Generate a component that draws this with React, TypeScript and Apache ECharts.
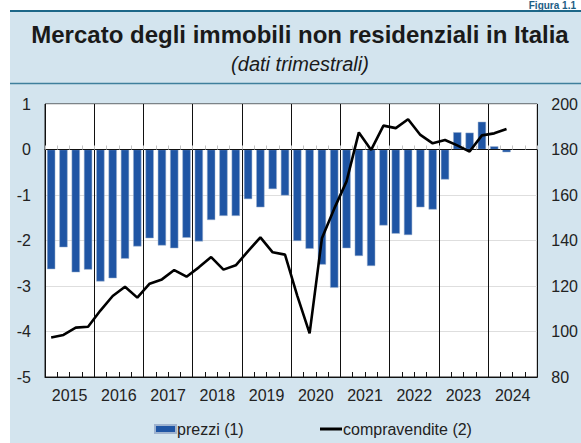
import React, { useEffect, useRef } from "react";
import * as echarts from "echarts";

const years = ["2015", "2016", "2017", "2018", "2019", "2020", "2021", "2022", "2023", "2024"];
const quarters = years.flatMap((y) => ["I", "II", "III", "IV"].map((q) => `${q} ${y}`));

const prezzi: (number | null)[] = [
  -2.63, -2.15, -2.70, -2.64,
  -2.90, -2.83, -2.40, -2.13,
  -1.95, -2.11, -2.17, -1.94,
  -2.02, -1.55, -1.46, -1.46,
  -1.09, -1.27, -0.87, -1.01,
  -2.01, -2.18, -2.53, -3.04,
  -2.17, -2.34, -2.56, -1.67,
  -1.85, -1.88, -1.27, -1.32,
  -0.66, 0.38, 0.37, 0.61,
  0.07, -0.06, null, null,
];

const compravendite: (number | null)[] = [
  97.4, 98.5, 101.7, 102.1,
  109.2, 115.6, 119.7, 114.9,
  121.0, 122.9, 127.0, 124.1,
  128.2, 132.7, 127.2, 129.1,
  135.3, 141.4, 134.8, 133.8,
  115.7, 99.2, 141.0, 154.0,
  166.0, 187.5, 179.8, 190.5,
  189.4, 193.3, 186.4, 182.7,
  184.2, 181.8, 179.1, 186.2,
  187.1, 189.0, null, null,
];

const leftTicks = { min: -5, max: 1, interval: 1 };
const rightTicks = { min: 80, max: 200, interval: 20 };

const FONT = "Liberation Sans, Arial, Helvetica, sans-serif";

export default function App() {
  const ref = useRef<HTMLDivElement>(null);

  useEffect(() => {
    if (!ref.current) return;
    const chart = echarts.init(ref.current, undefined, { renderer: "svg" });
    chart.setOption({
      animation: false,
      backgroundColor: "#ffffff",
      textStyle: { fontFamily: FONT },
      graphic: [
        {
          type: "rect",
          z: -10,
          silent: true,
          shape: { x: 10, y: 10, width: 571, height: 433 },
          style: { fill: "#d3e4ee" },
        },
        {
          type: "line",
          silent: true,
          shape: { x1: 10, y1: 11, x2: 581, y2: 11 },
          style: { stroke: "#1d6788", lineWidth: 2 },
        },
        {
          type: "line",
          silent: true,
          shape: { x1: 10, y1: 83.5, x2: 581, y2: 83.5 },
          style: { stroke: "#3f7f9c", lineWidth: 1.5 },
        },
        {
          type: "text",
          silent: true,
          x: 576,
          y: 0,
          style: {
            text: "Figura 1.1",
            fill: "#1d5d84",
            font: `bold 10px ${FONT}`,
            textAlign: "right",
            textVerticalAlign: "top",
          },
        },
        {
          type: "text",
          silent: true,
          x: 300,
          y: 34,
          style: {
            text: "Mercato degli immobili non residenziali in Italia",
            fill: "#1a1a1a",
            font: `bold 24px ${FONT}`,
            textAlign: "center",
            textVerticalAlign: "middle",
          },
        },
        {
          type: "text",
          silent: true,
          x: 300,
          y: 64,
          style: {
            text: "(dati trimestrali)",
            fill: "#1a1a1a",
            font: `italic 20px ${FONT}`,
            textAlign: "center",
            textVerticalAlign: "middle",
          },
        },
      ],
      legend: [
        {
          data: [{ name: "prezzi (1)", icon: "rect" }],
          left: 152,
          top: 419,
          itemWidth: 21,
          itemHeight: 8,
          itemGap: 2,
          padding: 2,
          textStyle: { fontFamily: FONT, fontSize: 16, color: "#222", padding: [0, 0, 0, -4] },
          selectedMode: false,
        },
        {
          data: [{ name: "compravendite (2)", icon: "rect" }],
          left: 318,
          top: 419,
          itemWidth: 22,
          itemHeight: 3,
          padding: 2,
          textStyle: { fontFamily: FONT, fontSize: 16, color: "#222", padding: [0, 0, 0, -4] },
          selectedMode: false,
        },
      ],
      grid: {
        left: 45,
        right: 42,
        top: 104,
        bottom: 66,
        show: true,
        backgroundColor: "#ffffff",
        borderColor: "#222",
        borderWidth: 1,
        containLabel: false,
      },
      xAxis: [
        {
          type: "category",
          data: quarters,
          boundaryGap: true,
          axisLine: { show: true, onZero: true, lineStyle: { color: "#111", width: 1 } },
          axisTick: { show: true, inside: true, length: 4, interval: 0, lineStyle: { color: "#c4c4c4" } },
          axisLabel: { show: false },
          splitLine: {
            show: true,
            interval: (i: number) => i % 4 === 0,
            lineStyle: { color: "#111", width: 1 },
          },
          z: 3,
        },
        {
          type: "category",
          data: quarters,
          boundaryGap: true,
          position: "bottom",
          axisLine: { show: true, onZero: false, lineStyle: { color: "#111", width: 1 } },
          axisTick: { show: true, inside: true, length: 5, interval: 0, lineStyle: { color: "#111" } },
          axisLabel: { show: false },
          splitLine: { show: false },
        },
        {
          type: "category",
          data: years,
          boundaryGap: true,
          position: "bottom",
          axisLine: { show: false, onZero: false },
          axisTick: { show: false },
          axisLabel: { show: true, margin: 10, fontSize: 16, color: "#222", fontFamily: FONT },
          splitLine: { show: false },
        },
      ],
      yAxis: [
        {
          type: "value",
          position: "left",
          ...leftTicks,
          axisLine: { show: false },
          axisTick: { show: false },
          axisLabel: { margin: 14, fontSize: 16, color: "#222", fontFamily: FONT },
          splitLine: { show: true, lineStyle: { color: "#dedede", width: 1 } },
        },
        {
          type: "value",
          position: "right",
          ...rightTicks,
          axisLine: { show: false },
          axisTick: { show: false },
          axisLabel: { margin: 14, fontSize: 16, color: "#222", fontFamily: FONT },
          splitLine: { show: false },
        },
      ],
      series: [
        {
          name: "prezzi (1)",
          type: "bar",
          xAxisIndex: 0,
          yAxisIndex: 0,
          data: prezzi,
          barWidth: "67%",
          itemStyle: { color: "#1f55a4", borderColor: "#9fb3cf", borderWidth: 0.5 },
          z: 2,
        },
        {
          name: "compravendite (2)",
          type: "line",
          xAxisIndex: 0,
          yAxisIndex: 1,
          data: compravendite,
          symbol: "none",
          lineStyle: { color: "#000", width: 2.6 },
          itemStyle: { color: "#000" },
          z: 5,
        },
      ],
    });
    return () => chart.dispose();
  }, []);

  return <div ref={ref} style={{ width: 581, height: 443, position: "absolute", left: 0, top: 0 }} />;
}
